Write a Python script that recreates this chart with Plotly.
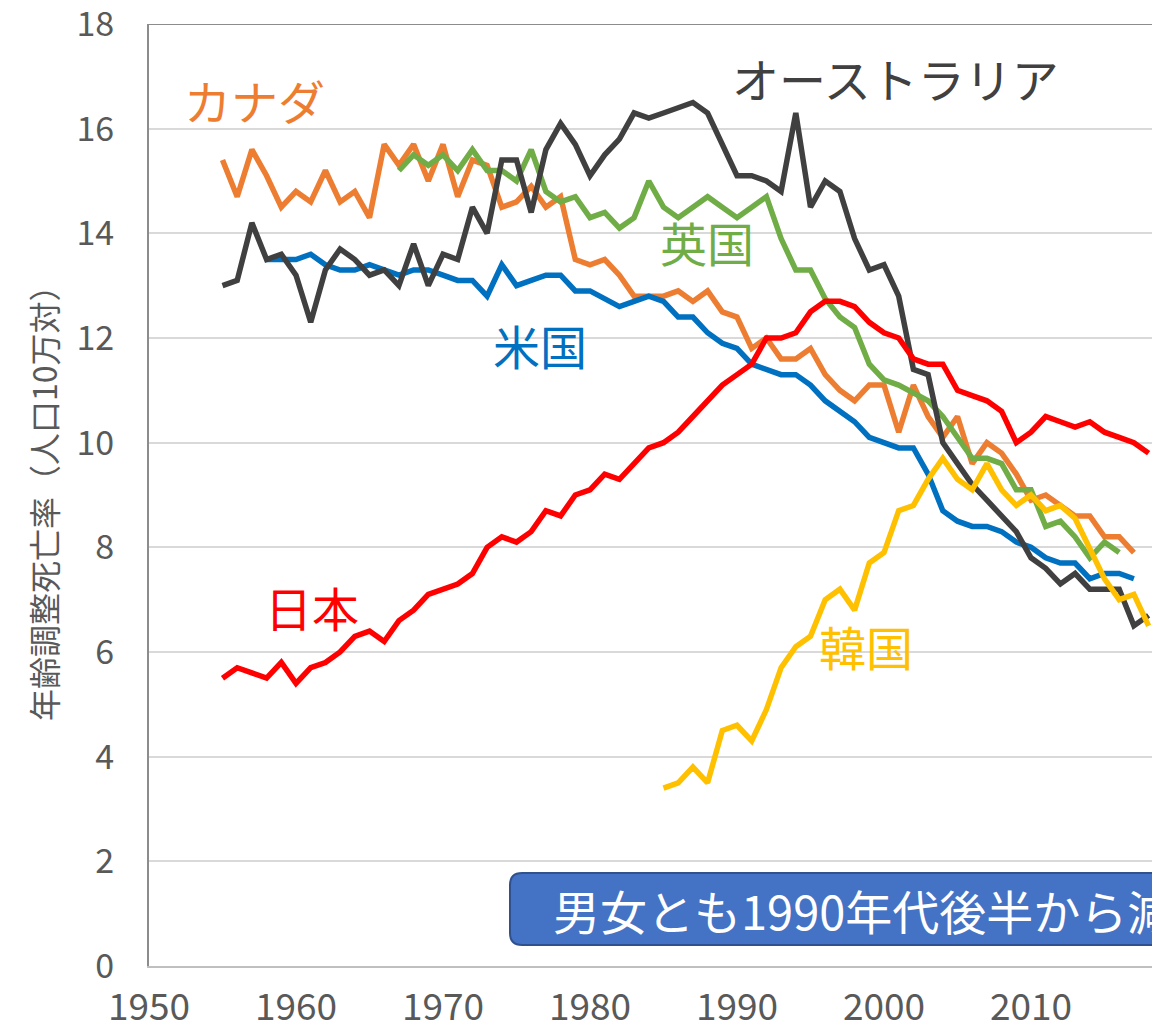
import plotly.graph_objects as go

# ---- data (age-adjusted death rate per 100k) ----
canada_start = 1955
canada = [15.4, 14.7, 15.6, 15.1, 14.5, 14.8, 14.6, 15.2, 14.6, 14.8,
          14.3, 15.7, 15.3, 15.7, 15.0, 15.7, 14.7, 15.4, 15.3, 14.5,
          14.6, 14.9, 14.5, 14.7, 13.5, 13.4, 13.5, 13.2, 12.8, 12.8,
          12.8, 12.9, 12.7, 12.9, 12.5, 12.4, 11.8, 12.0, 11.6, 11.6,
          11.8, 11.3, 11.0, 10.8, 11.1, 11.1, 10.2, 11.1, 10.5, 10.1,
          10.5, 9.6, 10.0, 9.8, 9.4, 8.9, 9.0, 8.8, 8.6, 8.6,
          8.2, 8.2, 7.9]

australia_start = 1955
australia = [13.0, 13.1, 14.2, 13.5, 13.6, 13.2, 12.3, 13.3, 13.7, 13.5,
             13.2, 13.3, 13.0, 13.8, 13.0, 13.6, 13.5, 14.5, 14.0, 15.4,
             15.4, 14.4, 15.6, 16.1, 15.7, 15.1, 15.5, 15.8, 16.3, 16.2,
             16.3, 16.4, 16.5, 16.3, 15.7, 15.1, 15.1, 15.0, 14.8, 16.3,
             14.5, 15.0, 14.8, 13.9, 13.3, 13.4, 12.8, 11.4, 11.3, 10.0,
             9.6, 9.2, 8.9, 8.6, 8.3, 7.8, 7.6, 7.3, 7.5, 7.2,
             7.2, 7.2, 6.5, 6.7]

japan_start = 1955
japan = [5.5, 5.7, 5.6, 5.5, 5.8, 5.4, 5.7, 5.8, 6.0, 6.3,
         6.4, 6.2, 6.6, 6.8, 7.1, 7.2, 7.3, 7.5, 8.0, 8.2,
         8.1, 8.3, 8.7, 8.6, 9.0, 9.1, 9.4, 9.3, 9.6, 9.9,
         10.0, 10.2, 10.5, 10.8, 11.1, 11.3, 11.5, 12.0, 12.0, 12.1,
         12.5, 12.7, 12.7, 12.6, 12.3, 12.1, 12.0, 11.6, 11.5, 11.5,
         11.0, 10.9, 10.8, 10.6, 10.0, 10.2, 10.5, 10.4, 10.3, 10.4,
         10.2, 10.1, 10.0, 9.8]

usa_start = 1958
usa = [13.5, 13.5, 13.5, 13.6, 13.4, 13.3, 13.3, 13.4, 13.3, 13.2,
       13.3, 13.3, 13.2, 13.1, 13.1, 12.8, 13.4, 13.0, 13.1, 13.2,
       13.2, 12.9, 12.9, 12.75, 12.6, 12.7, 12.8, 12.7, 12.4, 12.4,
       12.1, 11.9, 11.8, 11.5, 11.4, 11.3, 11.3, 11.1, 10.8, 10.6,
       10.4, 10.1, 10.0, 9.9, 9.9, 9.4, 8.7, 8.5, 8.4, 8.4,
       8.3, 8.1, 8.0, 7.8, 7.7, 7.7, 7.4, 7.5, 7.5, 7.4]

uk_start = 1967
uk = [15.2, 15.5, 15.3, 15.5, 15.2, 15.6, 15.2, 15.2, 15.0, 15.6,
      14.8, 14.6, 14.7, 14.3, 14.4, 14.1, 14.3, 15.0, 14.5, 14.3,
      14.5, 14.7, 14.5, 14.3, 14.5, 14.7, 13.9, 13.3, 13.3, 12.75,
      12.4, 12.2, 11.5, 11.2, 11.1, 10.95, 10.8, 10.5, 10.1, 9.7,
      9.7, 9.6, 9.1, 9.1, 8.4, 8.5, 8.2, 7.8, 8.1, 7.9]

korea_start = 1985
korea = [3.4, 3.5, 3.8, 3.5, 4.5, 4.6, 4.3, 4.9, 5.7, 6.1,
         6.3, 7.0, 7.2, 6.8, 7.7, 7.9, 8.7, 8.8, 9.3, 9.7,
         9.3, 9.1, 9.6, 9.1, 8.8, 9.0, 8.7, 8.8, 8.55, 8.0,
         7.4, 7.0, 7.1, 6.5]

x_ticks = [1950, 1960, 1970, 1980, 1990, 2000, 2010, 2020]
y_ticks = [0, 2, 4, 6, 8, 10, 12, 14, 16, 18]

FONT = "Noto Sans CJK JP"
GRAY = "#595959"

series = [
    ("カナダ", canada_start, canada, "#ED7D31"),
    ("英国", uk_start, uk, "#70AD47"),
    ("米国", usa_start, usa, "#0070C0"),
    ("オーストラリア", australia_start, australia, "#404040"),
    ("日本", japan_start, japan, "#FF0000"),
    ("韓国", korea_start, korea, "#FFC000"),
]

fig = go.Figure()
for name, start, vals, color in series:
    fig.add_trace(go.Scatter(
        x=list(range(start, start + len(vals))), y=vals, mode="lines",
        name=name, line=dict(color=color, width=5.5), showlegend=False,
    ))

# series labels
labels = [
    ("カナダ", 1957.2, 16.55, "#ED7D31"),
    ("オーストラリア", 2000.8, 16.97, "#404040"),
    ("英国", 1987.95, 13.84, "#70AD47"),
    ("米国", 1976.6, 11.87, "#0070C0"),
    ("日本", 1961.1, 6.87, "#FF0000"),
    ("韓国", 1998.8, 6.13, "#FFC000"),
]
for txt, lx, ly, c in labels:
    fig.add_annotation(x=lx, y=ly, text=txt, showarrow=False,
                       font=dict(family=FONT, size=47, color=c),
                       xanchor="center", yanchor="middle")

# page body has an 8px margin: figure coordinates = page coordinates - 8
OFF = 8
W, H = 1160 - OFF, 1031 - OFF
ml, mt, mb = 149 - OFF, 24 - OFF, 1031 - 966
pw, ph = W - ml, H - mt - mb
def px(x):
    return (x - OFF - ml) / pw
def py(y):
    return 1 - (y - OFF - mt) / ph

# callout box (rounded left corners, runs off the right edge)
bx0, bx1, by0, by1, r = 510, 1300, 873, 945, 12
rx, ry = r / pw, r / ph
path = (f"M {px(bx0)+rx},{py(by0)} L {px(bx1)},{py(by0)} L {px(bx1)},{py(by1)} "
        f"L {px(bx0)+rx},{py(by1)} Q {px(bx0)},{py(by1)} {px(bx0)},{py(by1)+ry} "
        f"L {px(bx0)},{py(by0)-ry} Q {px(bx0)},{py(by0)} {px(bx0)+rx},{py(by0)} Z")
fig.add_shape(type="path", path=path, xref="paper", yref="paper",
              fillcolor="#4472C4", line=dict(color="#2F528F", width=2), layer="above")
fig.add_annotation(xref="paper", yref="paper", x=px(551), y=py(909),
                   text="男女とも1990年代後半から減少", showarrow=False,
                   xanchor="left", yanchor="middle",
                   font=dict(family=FONT, size=47, color="white"))

# y axis title
fig.add_annotation(xref="paper", yref="paper", x=px(43), y=py(495),
                   text="年齢調整死亡率（人口10万対）", showarrow=False, textangle=-90,
                   xanchor="center", yanchor="middle",
                   font=dict(family=FONT, size=32, color=GRAY))

fig.update_layout(
    width=W, height=H,
    margin=dict(l=ml, r=0, t=mt, b=mb, pad=0, autoexpand=False),
    paper_bgcolor="white", plot_bgcolor="white",
    font=dict(family=FONT, color=GRAY),
)
fig.update_xaxes(
    range=[1950, 1950 + pw / 14.7], tickvals=x_ticks, ticktext=[str(v) for v in x_ticks],
    showgrid=False, zeroline=False, showline=True, linecolor="#BFBFBF", linewidth=2,
    mirror=False, ticks="", tickfont=dict(family=FONT, size=37, color=GRAY),
    ticklabelstandoff=8, ticklabeloverflow="allow", automargin=False,
)
fig.update_yaxes(
    range=[0, 18], tickvals=y_ticks, ticktext=[str(v) for v in y_ticks],
    showgrid=True, gridcolor="#D9D9D9", gridwidth=2, zeroline=False,
    showline=True, linecolor="#8C8C8C", linewidth=2, ticks="",
    tickfont=dict(family=FONT, size=34, color=GRAY), ticklabelstandoff=26,
    ticklabeloverflow="allow", automargin=False,
)
# top border line
fig.add_shape(type="line", xref="paper", yref="y", x0=0, x1=1, y0=18, y1=18,
              line=dict(color="#8C8C8C", width=2), layer="below")

fig.write_html("out.html")
